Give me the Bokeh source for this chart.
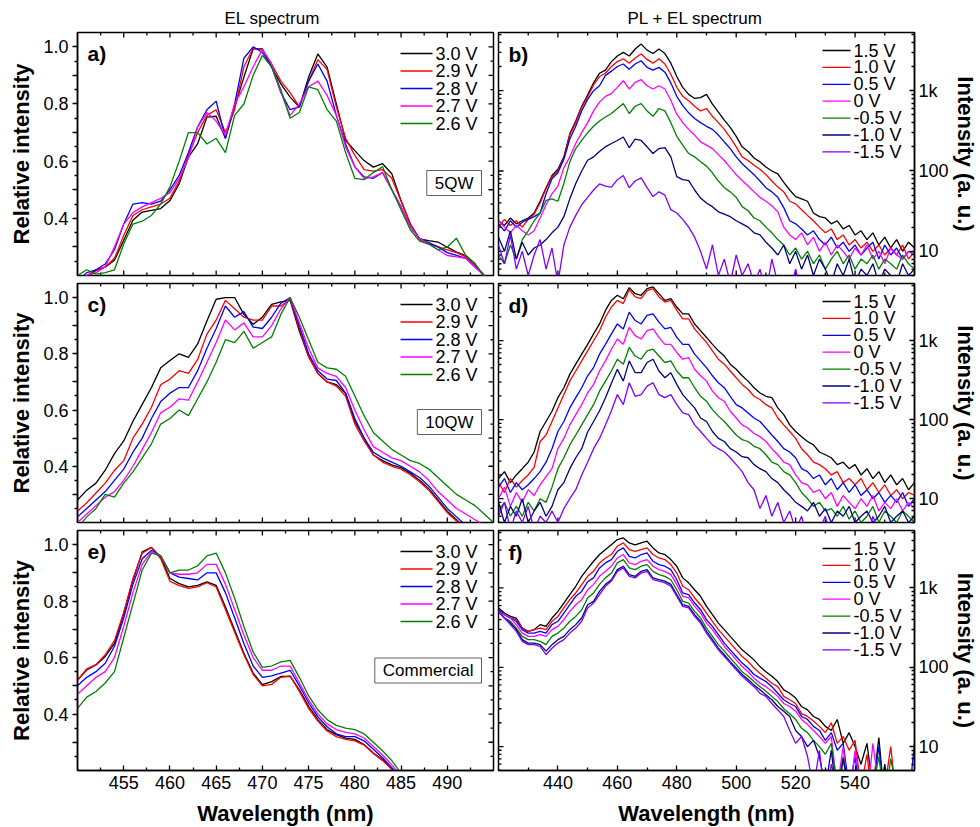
import math
from bokeh.plotting import figure
from bokeh.layouts import column, row
from bokeh.models import Range1d, FixedTicker, Label
from bokeh.embed import file_html
from bokeh.resources import INLINE

FONT = "Liberation Sans"

# ------------------------------------------------------------------ data
el_wavelength = list(range(450, 496))
el_wavelength_e = list(range(450, 487))
pl_wavelength = list(range(420, 561, 2))

el_labels = ["3.0 V", "2.9 V", "2.8 V", "2.7 V", "2.6 V"]
pl_labels = ["1.5 V", "1.0 V", "0.5 V", "0 V", "-0.5 V", "-1.0 V", "-1.5 V"]
sample_names = ["5QW", "10QW", "Commercial"]

el_ticks = [455, 460, 465, 470, 475, 480, 485, 490]
el_minor = [452.5, 457.5, 462.5, 467.5, 472.5, 477.5, 482.5, 487.5, 492.5]
rel_ticks = [0.3, 0.4, 0.5, 0.6, 0.7, 0.8, 0.9, 1.0]
rel_tick_labels = ["", "0.4", "", "0.6", "", "0.8", "", "1.0"]
rel_minor = [0.25, 0.35, 0.45, 0.55, 0.65, 0.75, 0.85, 0.95]
pl_ticks = [440, 460, 480, 500, 520, 540]
pl_minor = [430, 450, 470, 490, 510, 530, 550]
int_ticks = [10, 100, 1000]
int_tick_labels = ["10", "100", "1k"]
int_minor = [5, 6, 7, 8, 9, 20, 30, 40, 50, 60, 70, 80, 90,
             200, 300, 400, 500, 600, 700, 800, 900, 2000, 3000, 4000, 5000]

# panel a) EL, 5QW
a_30 = [0.15, 0.19, 0.218, 0.229, 0.253, 0.323, 0.393, 0.422, 0.428, 0.434,
        0.462, 0.521, 0.614, 0.661, 0.754, 0.757, 0.68, 0.789, 0.894, 0.993,
        0.993, 0.929, 0.87, 0.824, 0.789, 0.894, 0.975, 0.929, 0.8, 0.672,
        0.637, 0.602, 0.579, 0.591, 0.556, 0.462, 0.381, 0.328, 0.322, 0.317,
        0.299, 0.282, 0.27, 0.241, 0.194, 0.15]
a_29 = [0.15, 0.2, 0.22, 0.23, 0.26, 0.34, 0.41, 0.43, 0.44, 0.45,
        0.47, 0.53, 0.62, 0.7, 0.76, 0.78, 0.7, 0.78, 0.93, 0.995,
        0.99, 0.94, 0.88, 0.84, 0.79, 0.88, 0.955, 0.92, 0.79, 0.68,
        0.62, 0.57, 0.565, 0.57, 0.54, 0.46, 0.38, 0.325, 0.31, 0.3,
        0.29, 0.28, 0.265, 0.235, 0.2, 0.15]
a_28 = [0.18, 0.21, 0.22, 0.24, 0.29, 0.38, 0.45, 0.455, 0.45, 0.46,
        0.5, 0.55, 0.63, 0.72, 0.78, 0.81, 0.68, 0.8, 0.96, 1.0,
        0.98, 0.93, 0.84, 0.78, 0.79, 0.88, 0.94, 0.88, 0.76, 0.66,
        0.58, 0.545, 0.54, 0.56, 0.5, 0.44, 0.37, 0.33, 0.315, 0.3,
        0.28, 0.27, 0.26, 0.23, 0.2, 0.16]
a_27 = [0.17, 0.2, 0.21, 0.23, 0.3, 0.38, 0.42, 0.44, 0.455, 0.47,
        0.49, 0.54, 0.61, 0.72, 0.77, 0.74, 0.69, 0.8, 0.86, 0.93,
        0.99, 0.94, 0.84, 0.76, 0.8, 0.86, 0.88, 0.83, 0.76, 0.65,
        0.58, 0.54, 0.545, 0.56, 0.5, 0.44, 0.37, 0.33, 0.31, 0.29,
        0.27, 0.265, 0.26, 0.23, 0.2, 0.16]
a_26 = [0.2, 0.22, 0.205, 0.21, 0.22, 0.31, 0.38, 0.39, 0.41, 0.45,
        0.51, 0.6, 0.7, 0.7, 0.66, 0.68, 0.63, 0.76, 0.8, 0.9,
        0.97, 0.93, 0.85, 0.75, 0.77, 0.86, 0.85, 0.78, 0.74, 0.63,
        0.54, 0.535, 0.56, 0.58, 0.5, 0.43, 0.36, 0.32, 0.31, 0.29,
        0.3, 0.33, 0.27, 0.24, 0.2, 0.16]

# panel c) EL, 10QW
c_30 = [0.28, 0.315, 0.34, 0.386, 0.445, 0.49, 0.56, 0.62, 0.68, 0.75,
        0.776, 0.8, 0.787, 0.835, 0.917, 0.994, 1.0, 1.0, 0.94, 0.905,
        0.93, 0.976, 0.985, 0.99, 0.88, 0.79, 0.73, 0.7, 0.69, 0.66,
        0.56, 0.5, 0.44, 0.42, 0.405, 0.395, 0.375, 0.35, 0.32, 0.28,
        0.24, 0.21, 0.18, 0.16, 0.14, 0.12]
c_29 = [0.24, 0.27, 0.305, 0.34, 0.385, 0.42, 0.5, 0.55, 0.61, 0.69,
        0.71, 0.74, 0.73, 0.78, 0.87, 0.92, 0.99, 0.96, 0.93, 0.92,
        0.92, 0.97, 0.97, 0.995, 0.89, 0.79, 0.73, 0.7, 0.685, 0.65,
        0.55, 0.49, 0.44, 0.415, 0.4, 0.39, 0.37, 0.345, 0.315, 0.275,
        0.235, 0.205, 0.18, 0.16, 0.14, 0.12]
c_28 = [0.22, 0.25, 0.28, 0.31, 0.35, 0.39, 0.45, 0.5, 0.57, 0.63,
        0.66, 0.68, 0.68, 0.74, 0.82, 0.89, 0.97, 0.93, 0.95, 0.895,
        0.89, 0.93, 0.98, 1.0, 0.9, 0.8, 0.74, 0.71, 0.705, 0.66,
        0.57, 0.5, 0.45, 0.43, 0.415, 0.4, 0.38, 0.36, 0.33, 0.29,
        0.25, 0.22, 0.19, 0.17, 0.15, 0.13]
c_27 = [0.2, 0.23, 0.26, 0.29, 0.31, 0.35, 0.4, 0.46, 0.52, 0.59,
        0.61, 0.64, 0.635, 0.7, 0.77, 0.84, 0.92, 0.885, 0.91, 0.86,
        0.86, 0.9, 0.96, 1.0, 0.91, 0.82, 0.75, 0.73, 0.72, 0.68,
        0.6, 0.53, 0.47, 0.45, 0.43, 0.42, 0.4, 0.38, 0.35, 0.31,
        0.28, 0.25, 0.23, 0.21, 0.19, 0.17]
c_26 = [0.18, 0.22, 0.25, 0.3, 0.29, 0.34, 0.38, 0.43, 0.48, 0.55,
        0.57, 0.6, 0.58, 0.64, 0.7, 0.77, 0.85, 0.84, 0.88, 0.82,
        0.84, 0.86, 0.94, 1.0, 0.93, 0.85, 0.77, 0.75, 0.745, 0.72,
        0.65, 0.58, 0.52, 0.49, 0.46, 0.44, 0.42, 0.41, 0.39, 0.36,
        0.33, 0.3, 0.28, 0.26, 0.23, 0.2]

# panel e) EL, commercial
e_30 = [0.52, 0.556, 0.574, 0.604, 0.65, 0.756, 0.874, 0.974, 0.99, 0.956,
        0.88, 0.862, 0.85, 0.856, 0.868, 0.856, 0.78, 0.698, 0.615, 0.545,
        0.504, 0.515, 0.533, 0.533, 0.486, 0.427, 0.38, 0.345, 0.327, 0.315,
        0.31, 0.292, 0.262, 0.239, 0.204, 0.17, 0.14]
e_29 = [0.52, 0.56, 0.575, 0.61, 0.66, 0.76, 0.88, 0.97, 0.99, 0.95,
        0.87, 0.855, 0.845, 0.85, 0.865, 0.85, 0.77, 0.69, 0.61, 0.54,
        0.5, 0.505, 0.53, 0.535, 0.48, 0.42, 0.375, 0.34, 0.32, 0.31,
        0.305, 0.29, 0.26, 0.235, 0.205, 0.17, 0.14]
e_28 = [0.5, 0.53, 0.55, 0.58, 0.64, 0.74, 0.86, 0.95, 0.98, 0.96,
        0.9, 0.885, 0.88, 0.875, 0.9, 0.9, 0.83, 0.74, 0.65, 0.57,
        0.53, 0.535, 0.545, 0.555, 0.5, 0.44, 0.39, 0.355, 0.33, 0.32,
        0.32, 0.305, 0.275, 0.245, 0.21, 0.175, 0.14]
e_27 = [0.47, 0.5, 0.53, 0.55, 0.6, 0.71, 0.83, 0.93, 0.975, 0.96,
        0.9, 0.895, 0.895, 0.9, 0.93, 0.93, 0.86, 0.77, 0.68, 0.6,
        0.555, 0.555, 0.57, 0.57, 0.51, 0.45, 0.4, 0.365, 0.345, 0.335,
        0.33, 0.315, 0.285, 0.255, 0.22, 0.18, 0.145]
e_26 = [0.42, 0.46, 0.48, 0.51, 0.55, 0.67, 0.79, 0.91, 0.97, 0.96,
        0.9, 0.91, 0.91, 0.925, 0.96, 0.97, 0.9, 0.81, 0.71, 0.62,
        0.565, 0.57, 0.585, 0.59, 0.53, 0.465, 0.415, 0.38, 0.36, 0.35,
        0.345, 0.33, 0.3, 0.27, 0.235, 0.19, 0.155]

# panel b) PL + EL, 5QW
b_15 = [24, 21, 26, 22, 24, 26, 30, 42, 62, 88,
        105, 150, 290, 420, 640, 880, 1250, 1650, 1800, 2300,
        2700, 3000, 2700, 3300, 3800, 3200, 2900, 3300, 2900, 2200,
        1500, 1100, 900, 800, 820, 900, 680, 540, 430, 350,
        270, 200, 175, 145, 130, 112, 100, 92, 72, 58,
        48, 45, 42, 30, 27, 26, 22, 24, 19, 21,
        16, 18, 14, 17, 12, 15, 11, 14, 10, 13,
        11]
b_10 = [20, 25, 21, 24, 20, 25, 29, 40, 60, 85,
        100, 145, 280, 400, 620, 840, 1180, 1500, 1650, 2000,
        2300, 2500, 2200, 2550, 2860, 2450, 2200, 2500, 2150, 1600,
        1100, 850, 750, 640, 560, 600, 480, 400, 330, 260,
        200, 150, 135, 118, 105, 90, 75, 63, 55, 42,
        39, 33, 28, 24, 20, 17, 19, 14, 16, 12,
        14, 11, 13, 10, 12, 9, 11, 9, 12, 8,
        10]
b_05 = [22, 18, 24, 20, 23, 25, 27, 30, 52, 80,
        95, 140, 250, 360, 560, 780, 1000, 1150, 1550, 1750,
        2000, 2150, 1850, 2150, 2360, 1950, 1800, 1950, 1700, 1250,
        850, 650, 530, 450, 400, 360, 330, 280, 230, 190,
        150, 123, 105, 90, 75, 62, 55, 47, 35, 24,
        22, 19, 16, 18, 14, 12, 15, 11, 13, 10,
        12, 9, 11, 13, 8, 12, 9, 11, 8, 10,
        9]
b_00 = [24, 20, 17, 21, 18, 16, 18, 26, 38, 52,
        65, 110, 150, 220, 300, 400, 560, 720, 850, 920,
        1100, 1330, 1050, 1270, 1370, 1150, 1050, 1150, 1050, 760,
        510, 400, 330, 280, 230, 210, 190, 160, 135, 110,
        90, 76, 65, 55, 47, 42, 37, 31, 20, 16,
        14, 17, 12, 15, 10, 13, 9, 12, 10, 8,
        11, 9, 12, 8, 10, 7, 11, 9, 8, 10,
        9]
b_m05 = [9, 7, 12, 8, 14, 18, 24, 30, 43, 45,
         42, 70, 130, 190, 240, 300, 360, 420, 470, 520,
         600, 690, 520, 640, 690, 560, 480, 600, 560, 400,
         270, 210, 165, 150, 130, 115, 95, 75, 62, 55,
         47, 36, 32, 26, 24, 20, 17, 14, 12, 9,
         11, 8, 10, 7, 9, 6, 8, 10, 7, 9,
         6, 8, 7, 9, 6, 8, 7, 6, 9, 7,
         6]
b_m10 = [15, 10, 18, 8, 13, 9, 11, 12, 14, 17,
         20, 27, 45, 70, 100, 136, 150, 175, 200, 220,
         240, 265, 195, 250, 240, 200, 165, 190, 195, 150,
         85, 78, 76, 58, 46, 40, 36, 31, 29, 27,
         24, 22, 20, 17, 16, 13, 11, 9, 12, 7,
         10, 6, 9, 5, 8, 6, 4, 7, 5, 8,
         4, 6, 5, 7, 4, 6, 5, 4, 7, 5,
         6]
b_m15 = [12, 7, 16, 6, 10, 5, 9, 14, 6, 11,
         4, 12, 20, 28, 38, 47, 58, 69, 65, 63,
         78, 88, 62, 75, 82, 62, 48, 55, 50, 33,
         30, 25, 20, 15, 10, 6, 12, 5, 8, 4,
         9, 5, 7, 4, 6, 3, 8, 4, 5, 3,
         6, 3, 5, 3, 4, 3, 5, 3, 4, 3,
         5, 3, 4, 3, 4, 3, 4, 3, 4, 3,
         4]

# panel d) PL + EL, 10QW
d_15 = [18, 22, 16, 20, 24, 29, 39, 71, 95, 128,
        190, 254, 375, 505, 676, 900, 1220, 1630, 2420, 3240,
        3760, 3400, 4700, 3940, 3760, 4560, 4800, 3940, 3240, 3400,
        2670, 2190, 2190, 1630, 1340, 1100, 900, 745, 640, 505,
        435, 360, 308, 254, 218, 198, 190, 141, 116, 86,
        71, 61, 53, 48, 39, 36, 33, 27, 29, 24,
        27, 20, 24, 18, 22, 16, 20, 15, 18, 13,
        16]
d_10 = [16, 12, 18, 14, 17, 20, 25, 53, 64, 95,
        141, 208, 308, 414, 555, 745, 1000, 1340, 1980, 2670,
        3240, 2950, 4440, 3580, 3400, 4300, 4560, 3580, 3090, 3240,
        2420, 1890, 1890, 1410, 1160, 950, 745, 583, 505, 414,
        340, 280, 241, 198, 180, 155, 141, 105, 86, 71,
        58, 43, 36, 29, 27, 24, 20, 22, 16, 18,
        15, 18, 13, 16, 12, 15, 11, 13, 10, 12,
        11]
d_05 = [14, 18, 12, 16, 13, 15, 18, 22, 29, 43,
        71, 95, 141, 190, 254, 360, 457, 676, 900, 1220,
        1630, 1410, 2300, 1800, 1630, 2090, 2190, 1720, 1410, 1480,
        1100, 900, 900, 676, 555, 457, 360, 294, 254, 198,
        155, 141, 122, 105, 95, 78, 64, 53, 43, 39,
        33, 24, 22, 18, 20, 15, 18, 13, 16, 12,
        15, 11, 13, 10, 12, 9, 11, 9, 12, 8,
        10]
d_00 = [10, 14, 8, 12, 9, 13, 11, 15, 19, 24,
        43, 58, 86, 116, 155, 218, 280, 414, 555, 780,
        1050, 900, 1480, 1160, 1050, 1340, 1410, 1100, 900, 900,
        710, 583, 610, 435, 360, 308, 230, 190, 171, 128,
        105, 86, 78, 67, 61, 53, 43, 36, 29, 27,
        20, 16, 15, 12, 13, 10, 12, 8, 11, 9,
        7.5, 10, 8, 11, 7, 9, 7.5, 10, 7, 9,
        7.5]
d_m05 = [7, 9, 6, 8, 6, 9, 7, 10, 9, 14,
         24, 33, 48, 64, 86, 116, 155, 230, 308, 414,
         583, 505, 822, 640, 583, 745, 780, 640, 530, 555,
         414, 340, 340, 254, 198, 171, 134, 111, 95, 78,
         64, 56, 53, 46, 43, 36, 29, 27, 22, 20,
         16, 12, 10, 8, 9, 7, 7.5, 6, 8, 5.5,
         7, 5, 6, 8, 5, 7, 6, 5, 7, 6,
         5]
d_m10 = [9, 5, 8, 6, 10, 5, 7, 9, 6, 8,
         13, 16, 24, 33, 43, 70, 95, 130, 190, 290,
         435, 308, 555, 394, 394, 530, 583, 414, 340, 394,
         280, 208, 171, 141, 105, 95, 71, 58, 53, 43,
         39, 34, 33, 27, 24, 22, 18, 16, 13, 11,
         9, 8, 7, 9, 6, 7.5, 5, 7, 6, 8,
         5, 6, 7, 5, 6, 8, 5, 6, 7, 5,
         6]
d_m15 = [6, 9, 4, 7, 5, 8, 4, 6, 5, 7,
         5, 7.5, 10, 13, 20, 29, 43, 58, 86, 130,
         208, 155, 294, 198, 208, 266, 294, 208, 190, 208,
         155, 122, 116, 86, 71, 58, 48, 43, 39, 33,
         27, 22, 16, 13, 7.5, 11, 6, 9, 5, 7,
         4, 6, 3, 5, 4, 6, 3, 5, 4, 3,
         5, 4, 3, 6, 4, 3, 5, 3, 4, 3,
         4]

# panel f) PL + EL, commercial
f_15 = [560, 483, 438, 418, 312, 283, 298, 345, 328, 418,
        507, 646, 824, 1050, 1400, 1750, 2170, 2640, 3050, 3500,
        4070, 4270, 3700, 3500, 3700, 3880, 3200, 2760, 2640, 2280,
        1880, 1340, 1160, 950, 785, 587, 460, 361, 298, 245,
        202, 166, 144, 124, 102, 88, 77, 66, 52, 47,
        41, 32, 29, 24, 22, 18, 16, 22, 11, 15,
        10, 6, 11, 3, 13, 2, 4, 3, 2, 3,
        2]
f_10 = [532, 460, 418, 398, 312, 283, 298, 312, 298, 380,
        438, 560, 712, 865, 1100, 1400, 1620, 2070, 2390, 2640,
        3360, 3700, 3050, 2900, 3050, 3200, 2640, 2390, 2280, 1970,
        1540, 1050, 950, 748, 615, 483, 380, 298, 245, 202,
        166, 137, 118, 98, 84, 73, 63, 57, 43, 39,
        35, 26, 24, 21, 18, 15, 20, 11, 13.4, 9,
        12, 3, 8, 2, 4, 3, 10, 2, 3, 2,
        3]
f_05 = [532, 460, 418, 380, 298, 270, 270, 283, 270, 345,
        380, 483, 615, 785, 905, 1200, 1340, 1790, 2070, 2280,
        2900, 3200, 2510, 2390, 2640, 2760, 2170, 1970, 1880, 1700,
        1270, 865, 824, 646, 532, 398, 328, 258, 202, 166,
        137, 113, 98, 81, 73, 66, 57, 47, 39, 35,
        32, 24, 22, 18, 16, 12, 15, 9, 11, 3,
        7.5, 2, 4, 3, 10, 2, 3, 2, 4, 2,
        11]
f_00 = [507, 460, 418, 345, 270, 245, 245, 258, 245, 298,
        328, 398, 507, 615, 712, 950, 1110, 1400, 1620, 1880,
        2390, 2640, 2070, 1970, 2170, 2280, 1880, 1700, 1620, 1470,
        1110, 785, 748, 587, 483, 361, 298, 234, 183, 152,
        124, 102, 88, 73, 63, 57, 50, 43, 35, 32,
        28, 22, 19, 16, 13.4, 11, 13.4, 3, 10, 2,
        9, 3, 2, 11, 3, 2, 4, 2, 3, 2,
        3]
f_m05 = [507, 418, 380, 312, 245, 223, 223, 212, 193, 245,
         270, 312, 380, 438, 532, 748, 865, 1110, 1340, 1540,
         2070, 2280, 1790, 1700, 1880, 1970, 1620, 1470, 1400, 1270,
         950, 678, 646, 507, 418, 312, 245, 193, 160, 131,
         108, 88, 77, 66, 57, 50, 43, 37, 30, 26,
         22, 17, 15, 12, 10, 8, 11, 3, 7.5, 2,
         3, 2, 4, 3, 7.5, 2, 7, 3, 2, 3,
         2]
f_m10 = [507, 418, 361, 298, 223, 202, 202, 193, 160, 193,
         223, 245, 298, 345, 418, 615, 678, 905, 1110, 1270,
         1700, 1880, 1470, 1400, 1620, 1700, 1340, 1270, 1220, 1110,
         824, 615, 587, 460, 380, 283, 223, 174, 144, 118,
         98, 81, 70, 60, 52, 45, 39, 32, 28, 24,
         16, 13.4, 10, 12, 7.5, 3, 9, 2, 7, 3,
         2, 4, 2, 3, 2, 6, 2, 3, 2, 3,
         2]
f_m15 = [507, 418, 345, 283, 212, 193, 193, 183, 144, 174,
         202, 223, 270, 312, 380, 560, 646, 824, 1050, 1220,
         1620, 1790, 1400, 1340, 1540, 1620, 1270, 1220, 1160, 1050,
         785, 587, 560, 438, 361, 270, 212, 166, 137, 113,
         93, 77, 66, 57, 47, 43, 35, 29, 24, 16,
         11, 13.4, 7.5, 3, 9, 2, 6, 3, 2, 4,
         2, 3, 2, 4, 2, 3, 2, 3, 2, 3,
         2]

# ------------------------------------------------------------------ style
EL_COLORS = ["#000000", "#ff0000", "#0000ff", "#ff00ff", "#008000"]
PL_COLORS = ["#000000", "#ff0000", "#0000ff", "#ff00ff", "#008000", "#000080", "#7f00ff"]

FW = 416
ROWS = [(32, 243, 4), (4, 239, 4), (4, 240, 56)]   # border top, frame height, border bottom
EL_X, EL_Y = (450, 495), (0.2, 1.05)
PL_X, PL_Y = (420, 560), (5, 5300)
MAJ, MIN = 5, 3


def lx(dx):
    """x data of a point dx px right of the left frame edge (EL panels)"""
    return EL_X[0] + dx * (EL_X[1] - EL_X[0]) / FW


def ly(dy, fh):
    """y data of a point dy px below the top frame edge (EL panels)"""
    return EL_Y[1] - dy * (EL_Y[1] - EL_Y[0]) / fh


def rx(dx):
    return PL_X[0] + dx * (PL_X[1] - PL_X[0]) / FW


def ry(dy, fh):
    span = math.log10(PL_Y[1] / PL_Y[0])
    return 10 ** (math.log10(PL_Y[1]) - dy * span / fh)


def style_axis(ax, tick_in, tick_out):
    ax.axis_line_width = 1.5
    ax.axis_line_color = "black"
    ax.major_tick_line_width = 1.3
    ax.minor_tick_line_width = 1.3
    ax.major_tick_in = tick_in
    ax.major_tick_out = tick_out
    ax.minor_tick_in = MIN if tick_in else 0
    ax.minor_tick_out = MIN if tick_out else 0
    ax.major_label_text_font = FONT
    ax.major_label_text_font_size = "18px"
    ax.major_label_text_color = "black"
    ax.axis_label_text_font = FONT
    ax.axis_label_text_font_size = "22px"
    ax.axis_label_text_font_style = "bold"
    ax.axis_label_text_color = "black"


def ticks_h(p, xs, y, up, length):
    """inward tick marks along a horizontal frame edge"""
    p.ray(x=xs, y=[y] * len(xs), length=length, length_units="screen",
          angle=(math.pi / 2 if up else -math.pi / 2), line_color="black", line_width=1.3)


def ticks_v(p, ys, x, right, length):
    """inward tick marks along a vertical frame edge"""
    p.ray(x=[x] * len(ys), y=ys, length=length, length_units="screen",
          angle=(0 if right else math.pi), line_color="black", line_width=1.3)


def legend(p, labels, colors, xc, yc, fh, dy0, step, x0, x1, xt):
    """legend drawn in the frame's top-right corner (offsets in px)"""
    for i, (lab, col) in enumerate(zip(labels, colors)):
        y = yc(dy0 + i * step, fh)
        p.line([xc(x0), xc(x1)], [y, y], line_color=col, line_width=1.3)
        p.add_layout(Label(x=xc(xt), y=y, text=lab, text_font=FONT, text_font_size="18px",
                           text_color="black", text_baseline="middle", text_align="left"))


def tag(x, y, text):
    return Label(x=x, y=y, text=text, text_font=FONT, text_font_size="17px", text_color="black",
                 text_align="right", text_baseline="middle",
                 border_line_color="#606060", border_line_width=1,
                 background_fill_color="white", padding=(8, 3))


def panel_letter(x, y, letter):
    return Label(x=x, y=y, text=letter, text_font=FONT, text_font_size="21px",
                 text_font_style="bold", text_color="black", text_baseline="top", text_align="left")


def set_title(p, text, offset):
    p.title.text = text
    p.title.align = "left"
    p.title.offset = offset
    p.title.text_font = FONT
    p.title.text_font_size = "17px"
    p.title.text_font_style = "normal"
    p.title.text_color = "black"


def left_panel(ri, wl, series, letter, xlabels, title=None):
    bt, fh, bb = ROWS[ri]
    p = figure(frame_width=FW, frame_height=fh, x_range=Range1d(*EL_X), y_range=Range1d(*EL_Y),
               x_axis_location=("below" if xlabels else None),
               output_backend="svg", toolbar_location=None,
               min_border_left=77, min_border_right=2, min_border_top=bt, min_border_bottom=bb,
               outline_line_color="black", outline_line_width=1.5)
    p.xgrid.visible = False
    p.ygrid.visible = False
    if xlabels:
        xa = p.xaxis[0]
        xa.ticker = FixedTicker(ticks=el_ticks, minor_ticks=el_minor)
        style_axis(xa, MAJ, 0)
        xa.axis_label = "Wavelength (nm)"
        xa.major_label_standoff = 5
        xa.axis_label_standoff = 9
    else:
        ticks_h(p, el_ticks, EL_Y[0], True, MAJ)
        ticks_h(p, el_minor, EL_Y[0], True, MIN)
    ya = p.yaxis[0]
    ya.ticker = FixedTicker(ticks=rel_ticks, minor_ticks=rel_minor)
    ya.major_label_overrides = dict(zip(rel_ticks, rel_tick_labels))
    style_axis(ya, 0, MAJ)
    ya.axis_label = "Relative intensity"
    ya.major_label_standoff = 4
    ya.axis_label_standoff = 6
    ticks_h(p, el_ticks, EL_Y[1], False, MAJ)
    ticks_h(p, el_minor, EL_Y[1], False, MIN)
    ticks_v(p, rel_ticks, EL_X[1], False, MAJ)
    ticks_v(p, rel_minor, EL_X[1], False, MIN)
    for s, c in zip(series, EL_COLORS):
        p.line(wl, s, line_color=c, line_width=1.3)
    legend(p, el_labels, EL_COLORS, lx, ly, fh, 21, 17.5, 323, 355, 358)
    p.add_layout(panel_letter(lx(10), ly(9, fh), letter))
    if title:
        set_title(p, title, 147)
    return p


def right_panel(ri, series, letter, xlabels, title=None):
    bt, fh, bb = ROWS[ri]
    p = figure(frame_width=FW, frame_height=fh, x_range=Range1d(*PL_X), y_range=Range1d(*PL_Y),
               y_axis_type="log", y_axis_location="right",
               x_axis_location=("below" if xlabels else None),
               output_backend="svg", toolbar_location=None,
               min_border_left=3, min_border_right=60, min_border_top=bt, min_border_bottom=bb,
               outline_line_color="black", outline_line_width=1.5)
    p.xgrid.visible = False
    p.ygrid.visible = False
    if xlabels:
        xa = p.xaxis[0]
        xa.ticker = FixedTicker(ticks=pl_ticks, minor_ticks=pl_minor)
        style_axis(xa, MAJ, 0)
        xa.axis_label = "Wavelength (nm)"
        xa.major_label_standoff = 5
        xa.axis_label_standoff = 9
    else:
        ticks_h(p, pl_ticks, PL_Y[0], True, MAJ)
        ticks_h(p, pl_minor, PL_Y[0], True, MIN)
    ya = p.yaxis[0]
    ya.ticker = FixedTicker(ticks=int_ticks, minor_ticks=int_minor)
    ya.major_label_overrides = dict(zip(int_ticks, int_tick_labels))
    style_axis(ya, MAJ, 0)
    ya.axis_label = "Intensity (a. u.)"
    ya.major_label_standoff = 4
    ya.axis_label_standoff = 1
    ticks_h(p, pl_ticks, PL_Y[1], False, MAJ)
    ticks_h(p, pl_minor, PL_Y[1], False, MIN)
    ticks_v(p, int_ticks, PL_X[0], True, MAJ)
    ticks_v(p, int_minor, PL_X[0], True, MIN)
    for s, c in zip(series, PL_COLORS):
        p.line(pl_wavelength, s, line_color=c, line_width=1.3)
    legend(p, pl_labels, PL_COLORS, rx, ry, fh, 18, 16.9, 324, 352, 355)
    p.add_layout(panel_letter(rx(10), ry(10, fh), letter))
    if title:
        set_title(p, title, 129)
    return p


pa = left_panel(0, el_wavelength, [a_30, a_29, a_28, a_27, a_26], "a)", False, "EL spectrum")
pc = left_panel(1, el_wavelength, [c_30, c_29, c_28, c_27, c_26], "c)", False)
pe = left_panel(2, el_wavelength_e, [e_30, e_29, e_28, e_27, e_26], "e)", True)
pb = right_panel(0, [b_15, b_10, b_05, b_00, b_m05, b_m10, b_m15], "b)", False, "PL + EL spectrum")
pd = right_panel(1, [d_15, d_10, d_05, d_00, d_m05, d_m10, d_m15], "d)", False)
pf = right_panel(2, [f_15, f_10, f_05, f_00, f_m05, f_m10, f_m15], "f)", True)

# sample tags sit against the right edge of each EL panel (px below the frame top)
tag_dy = [150.5, 138.5, 140]
for lp, name, dy, (_, fh, _) in zip([pa, pc, pe], sample_names, tag_dy, ROWS):
    lp.add_layout(tag(lx(FW - 12), ly(dy, fh), name))

layout = column(row(pa, pb), row(pc, pd), row(pe, pf))
open("out.html", "w").write(file_html(layout, INLINE))
